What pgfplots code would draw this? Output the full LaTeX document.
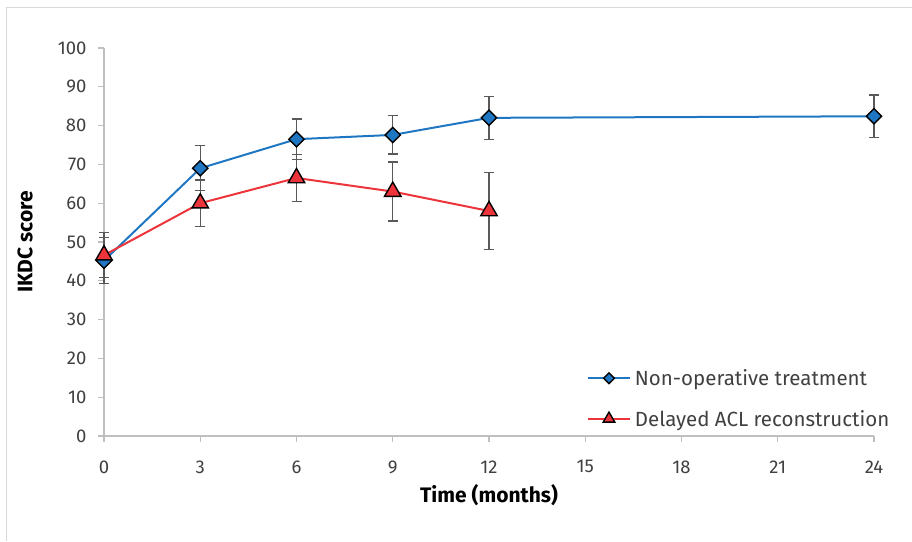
\documentclass[border=0pt]{standalone}
\usepackage{fontspec}
\setmainfont{Fira Sans}
\usepackage{pgfplots}
\pgfplotsset{compat=1.18}
\definecolor{cblue}{RGB}{31,119,196}
\definecolor{cred}{RGB}{236,52,58}
\definecolor{axgrey}{RGB}{191,191,191}
\definecolor{errgrey}{RGB}{89,89,89}
\definecolor{txt}{RGB}{64,64,64}
\definecolor{frame}{RGB}{217,217,217}
\pgfplotstableread{
x y e
0 45.2 5.9
3 69.0 5.8
6 76.5 5.2
9 77.6 4.9
12 82.0 5.6
24 82.4 5.5
}\nonop
\pgfplotstableread{
x y e
0 46.6 5.8
3 60.0 6.0
6 66.5 6.0
9 63.0 7.6
12 58.0 10.0
}\delayed
\begin{document}
\begin{tikzpicture}
\path[use as bounding box] (0pt,0pt) rectangle (912pt,541pt);
\draw[frame, line width=1pt] (6pt,0pt) -- (6pt,533pt) -- (912pt,533pt);
\begin{axis}[
  at={(104pt,105pt)}, anchor=south west,
  scale only axis, width=770pt, height=388pt,
  xmin=0, xmax=24, ymin=0, ymax=100,
  xtick={0,3,6,9,12,15,18,21,24},
  ytick={0,10,...,100},
  axis lines=left,
  axis line style={-, draw=axgrey, line width=1.2pt},
  tick align=outside,
  major tick length=6pt,
  tick style={draw=axgrey, line width=1.2pt},
  /pgf/number format/assume math mode=true,
  ticklabel style={font=\fontsize{18.5}{20}\selectfont, text=txt},
  xticklabel style={yshift=-15pt},
  yticklabel style={xshift=-8pt},
  xlabel={Time (months)},
  ylabel={IKDC score},
  every axis x label/.style={at={(axis description cs:0.5,-0.152)}, anchor=center},
  every axis y label/.style={at={(axis description cs:-0.1026,0.5)}, rotate=90, anchor=center},
  label style={font=\fontsize{21}{24}\selectfont\bfseries, text=black},
  legend style={draw=none, fill=none, at={(0.627,0.0966)}, anchor=west,
    font=\fontsize{20.5}{23}\selectfont, text=txt, row sep=19pt, column sep=2pt, inner sep=0pt},
  legend cell align=left,
  legend image code/.code={\draw[#1, /tikz/every mark/.append style={scale=0.7}, mark repeat=2, mark phase=2] plot coordinates {(0pt,0pt) (21pt,0pt) (42pt,0pt)};},
  clip=false,
]
\addplot[color=cblue, line width=2pt, mark=square*, mark size=5.4pt,
  mark options={rotate=45, fill=cblue, draw=black, line width=1.4pt, solid},
  error bars/.cd, y dir=both, y explicit,
  error bar style={errgrey, line width=1.2pt},
  error mark options={errgrey, line width=1.2pt, mark size=5pt, rotate=90}]
  table[x=x, y=y, y error=e] {\nonop};
\addlegendentry{Non-operative treatment}
\addplot[color=cred, line width=2pt, mark=triangle*, mark size=9.5pt,
  mark options={fill=cred, draw=black, line width=1.4pt, solid},
  error bars/.cd, y dir=both, y explicit,
  error bar style={errgrey, line width=1.2pt},
  error mark options={errgrey, line width=1.2pt, mark size=5pt, rotate=90}]
  table[x=x, y=y, y error=e] {\delayed};
\addlegendentry{Delayed ACL reconstruction}
\end{axis}
\end{tikzpicture}
\end{document}
